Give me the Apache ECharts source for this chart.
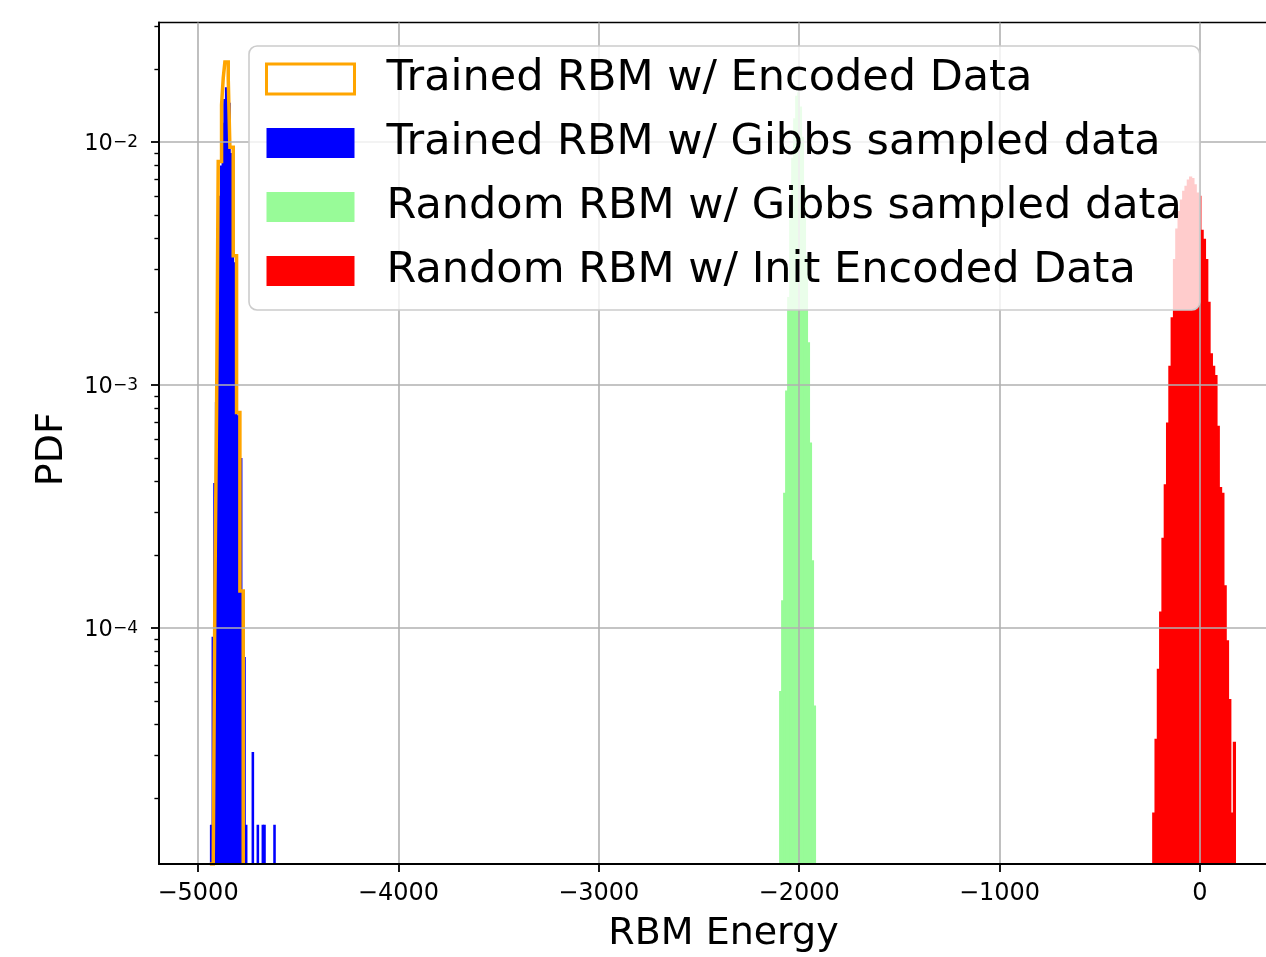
<!DOCTYPE html>
<html>
<head>
<meta charset="utf-8">
<script src="https://cdn.jsdelivr.net/npm/echarts@6/dist/echarts.min.js"></script>
<style>html,body{margin:0;padding:0;background:#fff}#c{width:1266px;height:957px}</style>
</head>
<body>
<div id="c"></div>
<script>
// ---------------- data ----------------
const seriesNames = [
  'Trained RBM w/ Encoded Data',
  'Trained RBM w/ Gibbs sampled data',
  'Random RBM w/ Gibbs sampled data',
  'Random RBM w/ Init Encoded Data'
];
// trained RBM histograms share bins
const trainedBinStart = -4941;
const trainedBinWidth = 8.32;
const trainedEncoded = [0, 0, 0, 1.39e-4, 7.7e-4, 8.3e-3, 8.3e-3, 1.42e-2, 1.83e-2, 2.13e-2,
  2.13e-2, 1.83e-2, 9.5e-3, 9.5e-3, 3.4e-3, 3.4e-3, 7.7e-4, 7.7e-4, 1.42e-4, 1.42e-4];
const trainedGibbs = [1.55e-5, 9.2e-5, 3.95e-4, 8.5e-4, 2.34e-3, 6.0e-3, 8.0e-3, 1.2e-2, 1.5e-2, 1.68e-2,
  1.65e-2, 1.45e-2, 9.0e-3, 6.5e-3, 3.2e-3, 2.2e-3, 7.5e-4, 6.0e-4, 5.0e-4, 1.37e-4,
  7.6e-5, 1.55e-5, 0, 0, 0, 3.09e-5, 0, 0, 1.55e-5, 0,
  0, 1.55e-5, 1.55e-5, 0, 0, 0, 0, 0, 1.55e-5];
const randomGibbsBinStart = -2100;
const randomGibbsBinWidth = 10;
const randomGibbs = [5.5e-5, 1.3e-4, 3.6e-4, 9.5e-4, 2.3e-3, 4.8e-3, 8.6e-3, 1.25e-2, 1.55e-2, 1.6e-2,
  1.4e-2, 1.05e-2, 6.5e-3, 3.4e-3, 1.5e-3, 5.8e-4, 1.9e-4, 4.8e-5];
const randomInitBinStart = -238;
const randomInitBinWidth = 11.5;
const randomInit = [1.74e-5, 3.5e-5, 6.8e-5, 1.17e-4, 2.35e-4, 3.9e-4, 7.0e-4, 1.2e-3, 1.9e-3, 3.3e-3,
  4.4e-3, 5.2e-3, 5.8e-3, 6.3e-3, 6.6e-3, 7.0e-3, 7.2e-3, 7.1e-3, 6.7e-3, 6.2e-3,
  6.0e-3, 4.35e-3, 4.0e-3, 3.3e-3, 2.2e-3, 1.35e-3, 1.2e-3, 1.1e-3, 6.8e-4, 3.8e-4,
  3.6e-4, 1.5e-4, 8.9e-5, 5.1e-5, 1.74e-5, 3.4e-5];
const xTicks = [-5000, -4000, -3000, -2000, -1000, 0];
const yMajorTicks = [1e-4, 1e-3, 1e-2];
const yMinorTicks = [2e-5, 3e-5, 4e-5, 5e-5, 6e-5, 7e-5, 8e-5, 9e-5,
  2e-4, 3e-4, 4e-4, 5e-4, 6e-4, 7e-4, 8e-4, 9e-4,
  2e-3, 3e-3, 4e-3, 5e-3, 6e-3, 7e-3, 8e-3, 9e-3, 2e-2, 3e-2];
const X_MIN = -5195, X_MAX = 440;
const Y_MIN = 1.069e-5, Y_MAX = 3.10e-2;

// ---------------- helpers ----------------
const FONT = 'DejaVu Sans';
const colors = { encoded: '#FFA500', gibbs: '#0000FF', randGibbs: '#98FB98', randInit: '#FF0000' };

function toBars(start, width, vals) {
  const out = [];
  vals.forEach((v, i) => { if (v > 0) out.push([start + i * width, start + (i + 1) * width, v]); });
  return out;
}
function toStep(start, width, vals) {
  const pts = [[start, Y_MIN]];
  vals.forEach((v, i) => {
    const y = v > 0 ? v : Y_MIN;
    pts.push([start + i * width, y]);
    pts.push([start + (i + 1) * width, y]);
  });
  pts.push([start + vals.length * width, Y_MIN]);
  return pts;
}
function barRenderer(color) {
  return function (params, api) {
    const tl = api.coord([api.value(0), api.value(2)]);
    const br = api.coord([api.value(1), Y_MIN]);
    return {
      type: 'rect',
      shape: { x: tl[0], y: tl[1], width: br[0] - tl[0] + 0.9, height: br[1] - tl[1] },
      style: { fill: color }
    };
  };
}
function barSeries(name, color, data, z) {
  return {
    name, type: 'custom', z, data, clip: true,
    itemStyle: { color },
    encode: { x: [0, 1], y: 2 },
    renderItem: barRenderer(color)
  };
}
const minus = v => (v < 0 ? '\u2212' + Math.abs(v) : String(v));

const chart = echarts.init(document.getElementById('c'), null, { renderer: 'canvas' });
chart.setOption({
  animation: false,
  backgroundColor: '#ffffff',
  grid: {
    left: 159, top: 22.5, right: -22, bottom: 93,
    show: true, borderColor: '#000', borderWidth: 1.6, backgroundColor: 'rgba(0,0,0,0)',
    containLabel: false, outerBoundsMode: 'none'
  },
  legend: {
    orient: 'vertical', left: 249, top: 46, z: 10, zlevel: 1, selectedMode: false,
    itemWidth: 88, itemHeight: 30, itemGap: 6,
    padding: [4, 18, 10, 16],
    backgroundColor: 'rgba(255,255,255,0.8)', borderColor: '#cccccc', borderWidth: 1.6, borderRadius: 8,
    textStyle: { fontSize: 43, fontFamily: FONT, color: '#000', lineHeight: 48, padding: [10, 0, 0, 27] },
    data: [
      { name: seriesNames[0], icon: 'rect', itemStyle: { color: 'rgba(255,255,255,0)', borderColor: colors.encoded, borderWidth: 3 } },
      { name: seriesNames[1], icon: 'rect', itemStyle: { color: colors.gibbs, borderWidth: 0 } },
      { name: seriesNames[2], icon: 'rect', itemStyle: { color: colors.randGibbs, borderWidth: 0 } },
      { name: seriesNames[3], icon: 'rect', itemStyle: { color: colors.randInit, borderWidth: 0 } }
    ]
  },
  xAxis: {
    type: 'value', min: X_MIN, max: X_MAX, z: 5,
    name: 'RBM Energy', nameLocation: 'middle', nameGap: 51,
    nameTextStyle: { fontSize: 38, fontFamily: FONT, color: '#000' },
    axisLine: { show: true, onZero: false, lineStyle: { color: '#000', width: 1.8 } },
    axisTick: { show: true, inside: false, length: 8, lineStyle: { color: '#000', width: 1.8 }, customValues: xTicks },
    axisLabel: { customValues: xTicks, margin: 18, fontSize: 24, fontFamily: FONT, color: '#000', formatter: minus },
    splitLine: { show: true, lineStyle: { color: '#b0b0b0', width: 1.6 } },
    minorTick: { show: false }, minorSplitLine: { show: false }
  },
  yAxis: [
    {
      type: 'log', logBase: 10, min: Y_MIN, max: Y_MAX, z: 5,
      name: 'PDF', nameLocation: 'middle', nameGap: 88, nameRotate: 90,
      nameTextStyle: { fontSize: 38, fontFamily: FONT, color: '#000', padding: [0, 12, 0, 0] },
      axisLine: { show: true, onZero: false, lineStyle: { color: '#000', width: 1.8 } },
      axisTick: { show: true, inside: false, length: 8, lineStyle: { color: '#000', width: 1.8 }, customValues: yMajorTicks },
      axisLabel: {
        customValues: yMajorTicks, margin: 21, color: '#000',
        formatter: v => '{a|10}{b|\u2212' + Math.abs(Math.round(Math.log10(v))) + '}',
        rich: {
          a: { fontSize: 22.5, fontFamily: FONT, color: '#000', lineHeight: 28, padding: [9, 0, 0, 0], verticalAlign: 'bottom' },
          b: { fontSize: 17, fontFamily: FONT, color: '#000', lineHeight: 14, padding: [6, 0, 0, 0], verticalAlign: 'top' }
        }
      },
      splitLine: { show: true, lineStyle: { color: '#b0b0b0', width: 1.6 } },
      minorTick: { show: false }, minorSplitLine: { show: false }
    },
    {
      type: 'log', logBase: 10, min: Y_MIN, max: Y_MAX, z: 5, position: 'left', offset: 0,
      axisLine: { show: false, onZero: false },
      axisTick: { show: true, inside: false, length: 4.6, lineStyle: { color: '#000', width: 1.4 }, customValues: yMinorTicks },
      axisLabel: { show: false },
      splitLine: { show: false }
    }
  ],
  series: [
    barSeries(seriesNames[1], colors.gibbs, toBars(trainedBinStart, trainedBinWidth, trainedGibbs), 2),
    {
      name: seriesNames[0], type: 'line', z: 3, clip: true,
      data: toStep(trainedBinStart, trainedBinWidth, trainedEncoded),
      showSymbol: false, symbol: 'none',
      itemStyle: { color: colors.encoded },
      lineStyle: { color: colors.encoded, width: 3.5, join: 'miter' }
    },
    barSeries(seriesNames[2], colors.randGibbs, toBars(randomGibbsBinStart, randomGibbsBinWidth, randomGibbs), 2),
    barSeries(seriesNames[3], colors.randInit, toBars(randomInitBinStart, randomInitBinWidth, randomInit), 2)
  ]
});
</script>
</body>
</html>
